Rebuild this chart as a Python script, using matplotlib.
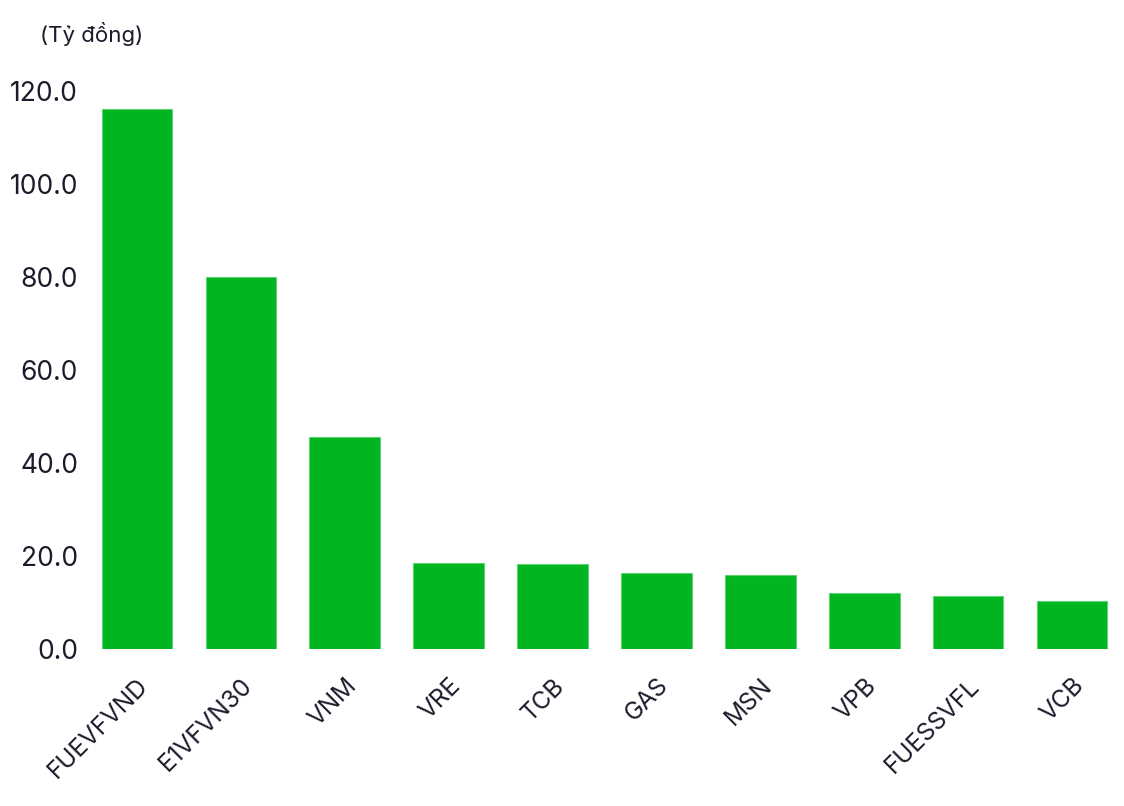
import matplotlib.pyplot as plt

# Top net buying by foreign investors (billion VND)
tickers = ['FUEVFVND', 'E1VFVN30', 'VNM', 'VRE', 'TCB',
           'GAS', 'MSN', 'VPB', 'FUESSVFL', 'VCB']
values = [116.1, 80.0, 45.6, 18.5, 18.3, 16.3, 15.9, 12.0, 11.4, 10.3]
yticks = [0, 20, 40, 60, 80, 100, 120]

plt.rcParams['font.family'] = ['Inter', 'DejaVu Sans']

fig = plt.figure(figsize=(11.24, 8.06), dpi=100)
ax = fig.add_axes([85 / 1124, 1 - 649 / 806, 1 - 85 / 1124, (649 - 91) / 806])

ax.bar(range(len(tickers)), values, width=0.68, color='#00B520',
       edgecolor='#5fd36f', linewidth=0.8)

ax.set_xlim(-0.5, len(tickers) - 0.5)
ax.set_ylim(0, 120)
ax.set_yticks(yticks)
ax.set_yticklabels([f'{v:.1f}' for v in yticks], fontsize=19, color='#1b1b2b')
ax.set_xticks(range(len(tickers)))
ax.set_xticklabels(tickers, rotation=45, ha='right', va='top',
                   rotation_mode='anchor', fontsize=17.5, color='#1b1b2b')
ax.tick_params(axis='both', length=0)
ax.tick_params(axis='x', pad=18)
ax.tick_params(axis='y', pad=5)

for s in ax.spines.values():
    s.set_visible(False)

fig.text(40 / 1124, 1 - 34 / 806, '(Tỷ đồng)', fontsize=16, color='#1b1b2b',
         va='center', ha='left')

fig.savefig('out.png', dpi=100)
